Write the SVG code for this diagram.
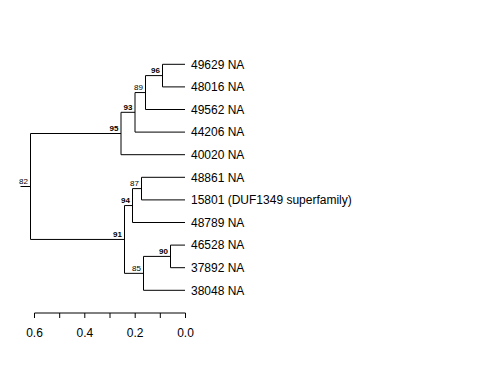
<svg xmlns="http://www.w3.org/2000/svg" width="480" height="384" viewBox="0 0 480 384">
<style>
.e{stroke:#000;stroke-width:1;fill:none}
.t{font-family:"Liberation Sans",Arial,sans-serif;font-size:12px;fill:#000}
.b{font-family:"Liberation Sans",Arial,sans-serif;font-size:8px;fill:#000;text-anchor:end}
.bb{font-weight:bold}
.ax{font-family:"Liberation Sans",Arial,sans-serif;font-size:12px;fill:#000;text-anchor:middle}
</style>
<rect width="480" height="384" fill="#fff"/>
<g id="connectors">
<path class="e" d="M20.5,186.5H30.5M30.5,133.5V239.45"/>
<path class="e" d="M30.5,133.5H121M121,112.3V154.7M121,154.7H185"/>
<path class="e" d="M121,112.3H135M135,92.55V132.1M135,132.1H185"/>
<path class="e" d="M135,92.55H145.5M145.5,75.6V109.5M145.5,109.5H185"/>
<path class="e" d="M145.5,75.6H162.5M162.5,64.3V86.9M162.5,64.3H185M162.5,86.9H185"/>
<path class="e" d="M30.5,239.45H124.5M124.5,205.55V273.35"/>
<path class="e" d="M124.5,205.55H132.5M132.5,188.6V222.5M132.5,222.5H185"/>
<path class="e" d="M132.5,188.6H141.5M141.5,177.3V199.9M141.5,177.3H185M141.5,199.9H185"/>
<path class="e" d="M124.5,273.35H143.5M143.5,256.4V290.3M143.5,290.3H185"/>
<path class="e" d="M143.5,256.4H170.5M170.5,245.1V267.7M170.5,245.1H185M170.5,267.7H185"/>
</g>
<g id="n82"><text class="b" x="28" y="184">82</text></g>
<g id="n95"><text class="b bb" x="118.5" y="131">95</text></g>
<g id="n93"><text class="b bb" x="132.5" y="110">93</text></g>
<g id="n89"><text class="b" x="143" y="90">89</text></g>
<g id="n96"><text class="b bb" x="160" y="73">96</text></g>
<g id="n91"><text class="b bb" x="122" y="237">91</text></g>
<g id="n94"><text class="b bb" x="130" y="203">94</text></g>
<g id="n87"><text class="b" x="139" y="186">87</text></g>
<g id="n85"><text class="b" x="141" y="271">85</text></g>
<g id="n90"><text class="b bb" x="168" y="254">90</text></g>
<g id="leaf1"><text class="t" x="191" y="68.5">49629 NA</text></g>
<g id="leaf2"><text class="t" x="191" y="91.1">48016 NA</text></g>
<g id="leaf3"><text class="t" x="191" y="113.7">49562 NA</text></g>
<g id="leaf4"><text class="t" x="191" y="136.3">44206 NA</text></g>
<g id="leaf5"><text class="t" x="191" y="158.9">40020 NA</text></g>
<g id="leaf6"><text class="t" x="191" y="181.5">48861 NA</text></g>
<g id="leaf7"><text class="t" x="191" y="204.1">15801 (DUF1349 superfamily)</text></g>
<g id="leaf8"><text class="t" x="191" y="226.7">48789 NA</text></g>
<g id="leaf9"><text class="t" x="191" y="249.3">46528 NA</text></g>
<g id="leaf10"><text class="t" x="191" y="271.9">37892 NA</text></g>
<g id="leaf11"><text class="t" x="191" y="294.5">38048 NA</text></g>
<g id="axis">
<path class="e" d="M34.5,313H185.5M34.5,313V318M59.7,313V318M84.8,313V318M110,313V318M135.2,313V318M160.3,313V318M185.5,313V318"/>
<text class="ax" x="34.5" y="337">0.6</text>
<text class="ax" x="84.8" y="337">0.4</text>
<text class="ax" x="135.2" y="337">0.2</text>
<text class="ax" x="185.5" y="337">0.0</text>
</g>
</svg>
